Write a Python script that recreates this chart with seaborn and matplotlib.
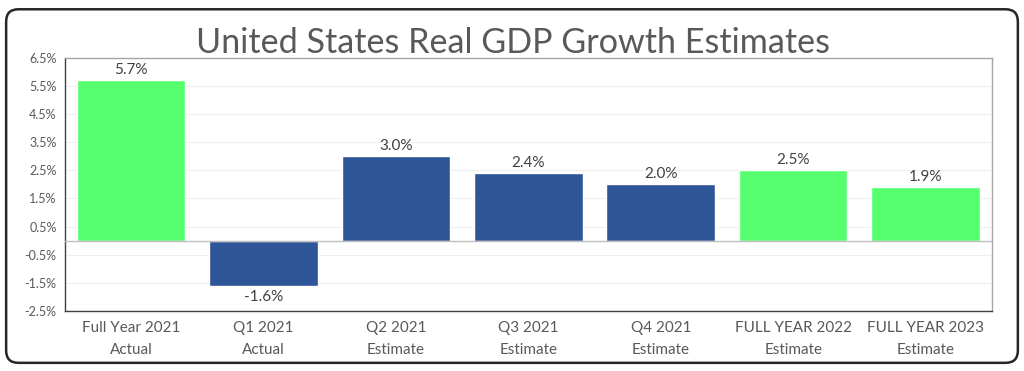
import matplotlib
matplotlib.use("Agg")
import matplotlib.pyplot as plt
import seaborn as sns
import pandas as pd
from matplotlib.patches import FancyBboxPatch

categories = ["Full Year 2021\nActual", "Q1 2021\nActual", "Q2 2021\nEstimate",
              "Q3 2021\nEstimate", "Q4 2021\nEstimate", "FULL YEAR 2022\nEstimate",
              "FULL YEAR 2023\nEstimate"]
values = [5.7, -1.6, 3.0, 2.4, 2.0, 2.5, 1.9]
kinds = ["full", "quarter", "quarter", "quarter", "quarter", "full", "full"]
yticks = [-2.5, -1.5, -0.5, 0.5, 1.5, 2.5, 3.5, 4.5, 5.5, 6.5]

GREEN = "#55FF6E"
BLUE = "#2E5597"

sns.set_theme(style="white")
plt.rcParams['font.family'] = ['Lato', 'DejaVu Sans']

df = pd.DataFrame({"cat": categories, "val": values, "kind": kinds})

fig = plt.figure(figsize=(10.24, 3.71), dpi=100)
ax = fig.add_axes([0.0635, 0.162, 0.905, 0.682])

sns.barplot(data=df, x="cat", y="val", hue="kind",
            palette={"full": GREEN, "quarter": BLUE},
            dodge=False, width=0.82, legend=False, ax=ax, saturation=1)

ax.set_ylim(-2.5, 6.5)
ax.set_yticks(yticks)
ax.set_yticklabels([f"{t:.1f}%" for t in yticks], fontsize=9, color="#595959")
ax.set_xticks(range(len(categories)))
ax.set_xticklabels(categories, fontsize=11, color="#595959", linespacing=1.75)
ax.tick_params(axis="x", length=0, pad=7)
ax.tick_params(axis="y", length=0, pad=6)
ax.set_xlabel("")
ax.set_ylabel("")
ax.set_xlim(-0.5, len(categories) - 0.5)

for y in yticks:
    ax.axhline(y, color="#EFEFEF", lw=0.8, zorder=0)
ax.axhline(0, color="#BFBFBF", lw=1.0, zorder=3)

for side in ["left", "bottom"]:
    ax.spines[side].set_color("#404040")
    ax.spines[side].set_linewidth(1.0)
for side in ["top", "right"]:
    ax.spines[side].set_color("#A6A6A6")
    ax.spines[side].set_linewidth(1.0)

for i, v in enumerate(values):
    if v >= 0:
        ax.text(i, v + 0.12, f"{v:.1f}%", ha="center", va="bottom", fontsize=11, color="#404040")
    else:
        ax.text(i, v - 0.15, f"{v:.1f}%", ha="center", va="top", fontsize=11, color="#404040")

fig.text(0.501, 0.885, "United States Real GDP Growth Estimates", ha="center", va="center",
         fontsize=24.6, color="#595959")

border = FancyBboxPatch((0.006, 0.022), 0.988, 0.953, boxstyle="round,pad=0,rounding_size=0.012",
                        transform=fig.transFigure, fill=False, edgecolor="#262626", lw=1.8,
                        mutation_aspect=1024/371)
fig.patches.append(border)

fig.savefig("out.png", dpi=100)
